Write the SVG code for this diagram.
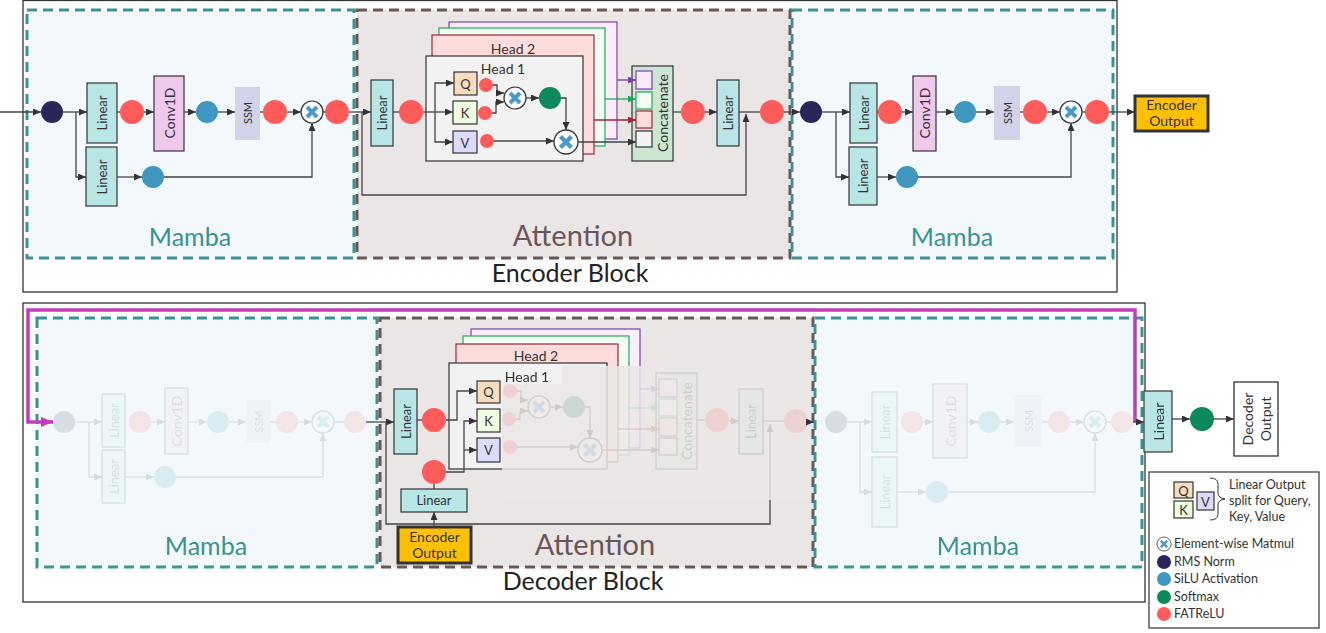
<svg xmlns="http://www.w3.org/2000/svg" xmlns:xlink="http://www.w3.org/1999/xlink" width="1326" height="633" viewBox="0 0 1326 633">
<style>
text{font-family:Lato,"Open Sans","Liberation Sans",sans-serif;fill:#333}
.ln{stroke:#444;stroke-width:1.3;fill:none}
.a{marker-end:url(#ah)}
.lin{fill:#b8e6e4;stroke:#333;stroke-width:1.2}
.conv{fill:#f0c8ee;stroke:#333;stroke-width:1.2}
.ssm{fill:#d2d2ea}
.red{fill:#ff5b5b}.rms{fill:#2b2659}.silu{fill:#3f97bf}.soft{fill:#0a8a5a}
.mbox{fill:#f2f8fb;stroke:#3a9393;stroke-width:3;stroke-dasharray:10 6}
.abox{fill:#ebe6e6;stroke:#6b5656;stroke-width:3;stroke-dasharray:10 6}
.outer{fill:#fff;stroke:#333;stroke-width:1.3}
.qb{fill:#f8dcc0;stroke:#333;stroke-width:1.2}
.kb{fill:#effde0;stroke:#333;stroke-width:1.2}
.vb{fill:#dcdcfa;stroke:#333;stroke-width:1.2}
.h1{fill:#f2f2f2;stroke:#333;stroke-width:1.2}
.h2{fill:#ffdcdc;stroke:#a0243a;stroke-width:1.2}
.h3{fill:#f3fff3;stroke:#1aad55;stroke-width:1.2}
.h4{fill:#fbeefb;stroke:#7b3fb0;stroke-width:1.2}
.cc{fill:#cde6d4;stroke:#333;stroke-width:1.2}
.eo{fill:#ffc000;stroke:#333;stroke-width:3}
.s13{font-size:13px}.s14{font-size:14px}.s10{font-size:11px}
.rot{text-anchor:middle;dominant-baseline:central}
.mam{font-size:25px;fill:#3a9393;text-anchor:middle}
.att{font-size:29px;fill:#6b5656;text-anchor:middle}
.blk{font-size:25px;fill:#222;text-anchor:middle}
.lg{font-size:12.5px}
.fade{opacity:0.13}
</style>
<defs>
<marker id="ah" viewBox="0 0 8 7" refX="8" refY="3.5" markerWidth="8" markerHeight="7" markerUnits="userSpaceOnUse" orient="auto"><path d="M0,0 L8,3.5 L0,7 z" fill="#333"/></marker>
<marker id="ap" viewBox="0 0 8 7" refX="8" refY="3.5" markerWidth="8" markerHeight="7" markerUnits="userSpaceOnUse" orient="auto"><path d="M0,0 L8,3.5 L0,7 z" fill="#7b3fb0"/></marker>
<marker id="ag" viewBox="0 0 8 7" refX="8" refY="3.5" markerWidth="8" markerHeight="7" markerUnits="userSpaceOnUse" orient="auto"><path d="M0,0 L8,3.5 L0,7 z" fill="#1aad55"/></marker>
<marker id="ar" viewBox="0 0 8 7" refX="8" refY="3.5" markerWidth="8" markerHeight="7" markerUnits="userSpaceOnUse" orient="auto"><path d="M0,0 L8,3.5 L0,7 z" fill="#a0243a"/></marker>
<marker id="am" viewBox="0 0 12 10" refX="12" refY="5" markerWidth="12" markerHeight="10" markerUnits="userSpaceOnUse" orient="auto"><path d="M0,0 L12,5 L0,10 z" fill="#c03cbc"/></marker>
<g id="mx"><circle r="11" fill="#fff" stroke="#333" stroke-width="1.2"/><path d="M-5,-5 L5,5 M5,-5 L-5,5" stroke="#4a9bc9" stroke-width="4"/></g>
</defs>

<!-- ================= ENCODER ================= -->
<g id="encoder-block">
<rect class="outer" x="23" y="0.5" width="1094" height="291.5"/>
<text class="blk" x="570" y="282">Encoder Block</text>
</g>

<g id="enc-mamba1">
<rect class="mbox" x="27" y="10" width="327" height="248"/>
<text class="mam" x="190" y="246">Mamba</text>
<circle class="rms" cx="52" cy="112" r="11"/>
<rect class="lin" x="87" y="83" width="30" height="60"/>
<text class="s13 rot" transform="translate(102,113) rotate(-90)">Linear</text>
<rect class="lin" x="86" y="147" width="31" height="59"/>
<text class="s13 rot" transform="translate(101.5,177) rotate(-90)">Linear</text>
<circle class="red" cx="132" cy="112" r="12"/>
<rect class="conv" x="154" y="76" width="30" height="75"/>
<text class="s14 rot" transform="translate(169,113) rotate(-90)">Conv1D</text>
<circle class="silu" cx="207" cy="112" r="11"/>
<rect class="ssm" x="235" y="87" width="25" height="53"/>
<text class="s10 rot" transform="translate(247.5,113) rotate(-90)">SSM</text>
<circle class="red" cx="275" cy="112" r="12"/>
<use xlink:href="#mx" transform="translate(312,112)"/>
<circle class="red" cx="337" cy="112" r="12"/>
<circle class="silu" cx="153" cy="177" r="11"/>
</g>

<g id="enc-attention">
<rect class="abox" x="357" y="10" width="433" height="248"/>
<text class="att" x="573" y="246">Attention</text>
<rect class="lin" x="371" y="80" width="22" height="66"/>
<text class="s13 rot" transform="translate(382,113) rotate(-90)">Linear</text>
<circle class="red" cx="411" cy="112" r="12"/>
<rect class="h4" x="449" y="22" width="168" height="117"/>
<rect class="h3" x="439" y="28" width="166" height="118"/>
<rect class="h2" x="432" y="35" width="162" height="119"/>
<text class="s14" x="513" y="54" text-anchor="middle">Head 2</text>
<rect class="h1" x="426" y="56" width="157" height="105"/>
<text class="s14" x="503" y="74" text-anchor="middle">Head 1</text>
<rect class="qb" x="454" y="72" width="23" height="23"/>
<text class="s13 rot" x="465.5" y="84">Q</text>
<rect class="kb" x="453" y="101" width="24" height="23"/>
<text class="s13 rot" x="465" y="113">K</text>
<rect class="vb" x="453" y="131" width="24" height="22"/>
<text class="s13 rot" x="465" y="142.5">V</text>
<circle class="red" cx="486" cy="85" r="7"/>
<circle class="red" cx="485" cy="113" r="7"/>
<circle class="red" cx="487" cy="141" r="7"/>
<use xlink:href="#mx" transform="translate(515,98)"/>
<circle class="soft" cx="550" cy="98" r="11"/>
<use xlink:href="#mx" transform="translate(566,142) scale(1.09)"/>
<rect class="cc" x="632" y="66" width="41" height="95"/>
<rect x="636" y="71" width="16" height="18" fill="#f8eafa" stroke="#7b3fb0" stroke-width="1.2"/>
<rect x="636" y="92" width="16" height="17" fill="#f5fff5" stroke="#1aad55" stroke-width="1.2"/>
<rect x="636" y="111" width="16" height="17" fill="#ffdcdc" stroke="#a0243a" stroke-width="1.2"/>
<rect x="636" y="131" width="16" height="16" fill="#f2f2f2" stroke="#333" stroke-width="1.2"/>
<text class="s14 rot" transform="translate(662,113) rotate(-90)">Concatenate</text>
<circle class="red" cx="693" cy="112" r="12"/>
<rect class="lin" x="717" y="80" width="22" height="66"/>
<text class="s13 rot" transform="translate(728,113) rotate(-90)">Linear</text>
<circle class="red" cx="772" cy="112" r="12"/>
</g>

<g id="enc-mamba2">
<rect class="mbox" x="792" y="10" width="321" height="248"/>
<text class="mam" x="952" y="246">Mamba</text>
<circle class="rms" cx="811" cy="112" r="11"/>
<rect class="lin" x="850" y="83" width="27" height="60"/>
<text class="s13 rot" transform="translate(863.5,113) rotate(-90)">Linear</text>
<rect class="lin" x="849" y="147" width="28" height="58"/>
<text class="s13 rot" transform="translate(863,176) rotate(-90)">Linear</text>
<circle class="red" cx="890" cy="112" r="12"/>
<rect class="conv" x="913" y="76" width="23" height="75"/>
<text class="s14 rot" transform="translate(924.5,113) rotate(-90)">Conv1D</text>
<circle class="silu" cx="965" cy="112" r="11"/>
<rect class="ssm" x="994" y="86" width="26" height="54"/>
<text class="s10 rot" transform="translate(1007,113) rotate(-90)">SSM</text>
<circle class="red" cx="1035" cy="112" r="12"/>
<use xlink:href="#mx" transform="translate(1071,112)"/>
<circle class="red" cx="1097" cy="112" r="12"/>
<circle class="silu" cx="907" cy="177" r="11"/>
</g>

<g id="enc-output">
<rect class="eo" x="1135" y="96" width="73" height="35"/>
<text class="s14" x="1171.5" y="110" text-anchor="middle">Encoder</text>
<text class="s14" x="1171.5" y="126" text-anchor="middle">Output</text>
</g>

<g id="enc-connectors">
<path class="ln a" d="M0 112 H41"/>
<path class="ln a" d="M63 112 H87"/>
<path class="ln a" d="M76 112 V177 H86"/>
<path class="ln" d="M117 112 H120"/>
<path class="ln a" d="M144 112 H154"/>
<path class="ln a" d="M184 112 H196"/>
<path class="ln a" d="M218 112 H235"/>
<path class="ln" d="M260 112 H263"/>
<path class="ln a" d="M287 112 H301"/>
<path class="ln" d="M323 112 H325"/>
<path class="ln a" d="M117 177 H142"/>
<path class="ln a" d="M164 177 H312 V123"/>
<path class="ln a" d="M349 112 H371"/>
<path class="ln a" d="M362 112 V195 H746 V114"/>
<path class="ln" d="M393 112 H399"/>
<path class="ln a" d="M423 112 H453"/>
<path class="ln a" d="M435 112 V83 H454"/>
<path class="ln a" d="M435 112 V142 H453"/>
<path class="ln a" d="M493 85 H497 V93 H504"/>
<path class="ln a" d="M492 113 H496 V102 H504"/>
<path class="ln a" d="M526 98 H539"/>
<path class="ln a" d="M561 98 H566 V130"/>
<path class="ln a" d="M494 141 H554"/>
<path class="ln a" d="M578 142 H636"/>
<path d="M617 80 H636" stroke="#7b3fb0" stroke-width="1.3" marker-end="url(#ap)"/>
<path d="M605 99 H636" stroke="#1aad55" stroke-width="1.3" marker-end="url(#ag)"/>
<path d="M594 120 H636" stroke="#a0243a" stroke-width="1.3" marker-end="url(#ar)"/>
<path class="ln" d="M673 112 H681"/>
<path class="ln a" d="M705 112 H717"/>
<path class="ln" d="M739 112 H760"/>
<path class="ln a" d="M784 112 H800"/>
<path class="ln a" d="M822 112 H850"/>
<path class="ln a" d="M836 112 V177 H849"/>
<path class="ln" d="M877 112 H878"/>
<path class="ln a" d="M902 112 H913"/>
<path class="ln a" d="M936 112 H954"/>
<path class="ln a" d="M976 112 H994"/>
<path class="ln" d="M1020 112 H1023"/>
<path class="ln a" d="M1047 112 H1060"/>
<path class="ln" d="M1082 112 H1085"/>
<path class="ln a" d="M877 177 H896"/>
<path class="ln a" d="M918 177 H1071 V123"/>
<path class="ln a" d="M1109 112 H1135"/>
</g>

<!-- ================= DECODER ================= -->
<g id="decoder-block">
<rect class="outer" x="23" y="303" width="1122" height="299"/>
<text class="blk" x="583" y="590">Decoder Block</text>
</g>

<g id="dec-mamba1">
<rect class="mbox" x="37" y="318" width="340" height="249"/>
<text class="mam" x="206" y="555">Mamba</text>
<g class="fade">
<circle class="rms" cx="64" cy="422" r="11"/>
<path class="ln a" d="M75 422 H102"/>
<path class="ln a" d="M89 422 V477 H102"/>
<rect class="lin" x="102" y="394" width="23" height="53"/>
<text class="s13 rot" transform="translate(113.5,420.5) rotate(-90)">Linear</text>
<rect class="lin" x="102" y="450" width="23" height="53"/>
<text class="s13 rot" transform="translate(113.5,476.5) rotate(-90)">Linear</text>
<circle class="red" cx="140" cy="422" r="11"/>
<path class="ln a" d="M151 422 H165"/>
<rect class="conv" x="165" y="388" width="23" height="66"/>
<text class="s14 rot" transform="translate(176.5,421) rotate(-90)">Conv1D</text>
<path class="ln a" d="M188 422 H207"/>
<circle class="silu" cx="218" cy="422" r="11"/>
<path class="ln a" d="M229 422 H246"/>
<rect class="ssm" x="246" y="400" width="24" height="43"/>
<text class="s10 rot" transform="translate(258,421.5) rotate(-90)">SSM</text>
<path class="ln" d="M270 422 H276"/>
<circle class="red" cx="287" cy="422" r="11"/>
<path class="ln a" d="M298 422 H312"/>
<use xlink:href="#mx" transform="translate(323,422)"/>
<path class="ln" d="M334 422 H344"/>
<circle class="red" cx="355" cy="422" r="11"/>
<path class="ln a" d="M125 477 H154"/>
<circle class="silu" cx="165" cy="477" r="11"/>
<path class="ln a" d="M176 477 H323 V433"/>
</g>
</g>

<g id="dec-attention">
<rect class="abox" x="380" y="318" width="433" height="249"/>
<text class="att" x="595" y="555">Attention</text>
<rect class="lin" x="394" y="389" width="23" height="65"/>
<text class="s13 rot" transform="translate(405.5,421.5) rotate(-90)">Linear</text>
<circle class="red" cx="434" cy="420" r="12"/>
<circle class="red" cx="434" cy="472" r="12"/>
<rect class="lin" x="401" y="489" width="66" height="23"/>
<text class="s13" x="434" y="505" text-anchor="middle">Linear</text>
<rect class="h4" x="471" y="329" width="169" height="119"/>
<rect class="h3" x="463" y="336" width="166" height="119"/>
<rect class="h2" x="456" y="344" width="162" height="118"/>
<text class="s14" x="536" y="361" text-anchor="middle">Head 2</text>
<rect class="h1" x="449" y="363" width="158" height="106"/>
<rect class="qb" x="477" y="381" width="23" height="22"/>
<text class="s13 rot" x="488.5" y="392">Q</text>
<rect class="kb" x="477" y="409" width="23" height="23"/>
<text class="s13 rot" x="488.5" y="420.5">K</text>
<rect class="vb" x="477" y="438" width="23" height="24"/>
<text class="s13 rot" x="488.5" y="450">V</text>
<circle class="red" cx="510" cy="391" r="7"/>
<circle class="red" cx="509" cy="419" r="7"/>
<circle class="red" cx="510" cy="447" r="7"/>
<use xlink:href="#mx" transform="translate(539,407)"/>
<circle class="soft" cx="574" cy="407" r="11"/>
<use xlink:href="#mx" transform="translate(590,450) scale(1.09)"/>
<rect class="cc" x="656" y="373" width="41" height="96"/>
<rect x="659" y="379" width="18" height="18" fill="#f8eafa" stroke="#7b3fb0" stroke-width="1.2"/>
<rect x="659" y="399" width="18" height="17" fill="#f5fff5" stroke="#1aad55" stroke-width="1.2"/>
<rect x="659" y="418" width="18" height="18" fill="#ffdcdc" stroke="#a0243a" stroke-width="1.2"/>
<rect x="659" y="438" width="18" height="17" fill="#f2f2f2" stroke="#333" stroke-width="1.2"/>
<text class="s14 rot" transform="translate(686,421) rotate(-90)">Concatenate</text>
<circle class="red" cx="717" cy="420" r="12"/>
<rect class="lin" x="739" y="389" width="24" height="65"/>
<text class="s13 rot" transform="translate(751,421.5) rotate(-90)">Linear</text>
<circle class="red" cx="796" cy="421" r="12"/>
<rect class="eo" x="398" y="527" width="73" height="36"/>
<text class="s14" x="434.5" y="542" text-anchor="middle">Encoder</text>
<text class="s14" x="434.5" y="558" text-anchor="middle">Output</text>
</g>

<g id="dec-attention-connectors">
<path class="ln a" d="M366 422 H394"/>
<path class="ln a" d="M386 422 V524 H770 V424"/>
<path class="ln" d="M417 420 H422"/>
<path class="ln a" d="M446 420 H457 V391 H477"/>
<path class="ln a" d="M446 472 H464 V421 H477"/>
<path class="ln a" d="M464 450 H477"/>
<path class="ln" d="M434 489 V484"/>
<path class="ln a" d="M434 527 V512"/>
<path class="ln a" d="M517 391 H521 V400 H528"/>
<path class="ln a" d="M516 419 H520 V411 H528"/>
<path class="ln a" d="M550 407 H563"/>
<path class="ln a" d="M585 407 H590 V438"/>
<path class="ln a" d="M517 447 H578"/>
<path class="ln a" d="M602 450 H659"/>
<path d="M640 389 H659" stroke="#7b3fb0" stroke-width="1.3" marker-end="url(#ap)"/>
<path d="M629 408 H659" stroke="#1aad55" stroke-width="1.3" marker-end="url(#ag)"/>
<path d="M618 429 H659" stroke="#a0243a" stroke-width="1.3" marker-end="url(#ar)"/>
<path class="ln" d="M697 420 H705"/>
<path class="ln a" d="M729 421 H739"/>
<path class="ln" d="M763 421 H784"/>
<path class="ln" d="M808 422 H825"/>
</g>

<polygon points="502,384 562,384 562,366 810,366 810,500 502,500" fill="#ebe6e6" opacity="0.85"/>
<text class="s14" x="527" y="382" text-anchor="middle">Head 1</text>
<path class="ln a" d="M806 422 H814"/>

<g id="dec-mamba2">
<rect class="mbox" x="815" y="318" width="327" height="249"/>
<text class="mam" x="978" y="555">Mamba</text>
<g class="fade">
<circle class="rms" cx="836" cy="422" r="11"/>
<path class="ln a" d="M847 422 H872"/>
<path class="ln a" d="M860 422 V492 H872"/>
<rect class="lin" x="872" y="392" width="25" height="60"/>
<text class="s13 rot" transform="translate(884.5,422) rotate(-90)">Linear</text>
<rect class="lin" x="872" y="457" width="25" height="70"/>
<text class="s13 rot" transform="translate(884.5,492) rotate(-90)">Linear</text>
<circle class="red" cx="912" cy="422" r="11"/>
<path class="ln a" d="M923 422 H933"/>
<rect class="conv" x="933" y="384" width="34" height="74"/>
<text class="s14 rot" transform="translate(950,421) rotate(-90)">Conv1D</text>
<path class="ln a" d="M967 422 H978"/>
<circle class="silu" cx="989" cy="422" r="11"/>
<path class="ln a" d="M1000 422 H1014"/>
<rect class="ssm" x="1014" y="395" width="28" height="52"/>
<text class="s10 rot" transform="translate(1028,421) rotate(-90)">SSM</text>
<path class="ln" d="M1042 422 H1048"/>
<circle class="red" cx="1059" cy="422" r="11"/>
<path class="ln a" d="M1070 422 H1084"/>
<use xlink:href="#mx" transform="translate(1095,422)"/>
<path class="ln" d="M1106 422 H1111"/>
<circle class="red" cx="1122" cy="422" r="11"/>
<path class="ln a" d="M897 492 H926"/>
<circle class="silu" cx="937" cy="492" r="11"/>
<path class="ln a" d="M948 492 H1095 V433"/>
</g>
</g>

<g id="dec-output-stage">
<rect class="lin" x="1144" y="391" width="28" height="61"/>
<text class="s14 rot" transform="translate(1158,421.5) rotate(-90)">Linear</text>
<circle class="soft" cx="1202" cy="419" r="12"/>
<rect x="1234" y="382" width="44" height="74" fill="#fff" stroke="#333" stroke-width="1.3"/>
<text class="s14 rot" transform="translate(1247,419) rotate(-90)">Decoder</text>
<text class="s14 rot" transform="translate(1265,419) rotate(-90)">Output</text>
</g>

<g id="skip-connector">
<path d="M1135 422 V310 H28 V422 H53" fill="none" stroke="#c03cbc" stroke-width="3.5" marker-end="url(#am)"/>
<path class="ln a" d="M1133 422 H1144"/>
<path class="ln a" d="M1172 419 H1190"/>
<path class="ln a" d="M1214 419 H1234"/>
</g>

<g id="legend">
<rect x="1149" y="472" width="170" height="156" fill="#fff" stroke="#333" stroke-width="1.2"/>
<rect class="qb" x="1174" y="482" width="19" height="16"/>
<text class="s13 rot" x="1183.5" y="490.5">Q</text>
<rect class="kb" x="1174" y="501" width="19" height="17"/>
<text class="s13 rot" x="1183.5" y="510">K</text>
<rect class="vb" x="1197" y="492" width="17" height="18"/>
<text class="s13 rot" x="1205.5" y="501.5">V</text>
<path d="M1210 478 Q1218 478 1218 484 V493 Q1218 498 1225 499 Q1218 500 1218 505 V514 Q1218 520 1210 520" fill="none" stroke="#333" stroke-width="1"/>
<text class="lg" x="1229" y="489">Linear Output</text>
<text class="lg" x="1229" y="505">split for Query,</text>
<text class="lg" x="1229" y="521">Key, Value</text>
<use xlink:href="#mx" transform="translate(1164,544) scale(0.64)"/>
<text class="lg" x="1174" y="548">Element-wise Matmul</text>
<circle class="rms" cx="1164" cy="562" r="7"/>
<text class="lg" x="1174" y="566">RMS Norm</text>
<circle class="silu" cx="1164" cy="579" r="7"/>
<text class="lg" x="1174" y="583">SiLU Activation</text>
<circle class="soft" cx="1164" cy="597" r="7"/>
<text class="lg" x="1174" y="601">Softmax</text>
<circle class="red" cx="1164" cy="614" r="7"/>
<text class="lg" x="1174" y="618">FATReLU</text>
</g>
</svg>
